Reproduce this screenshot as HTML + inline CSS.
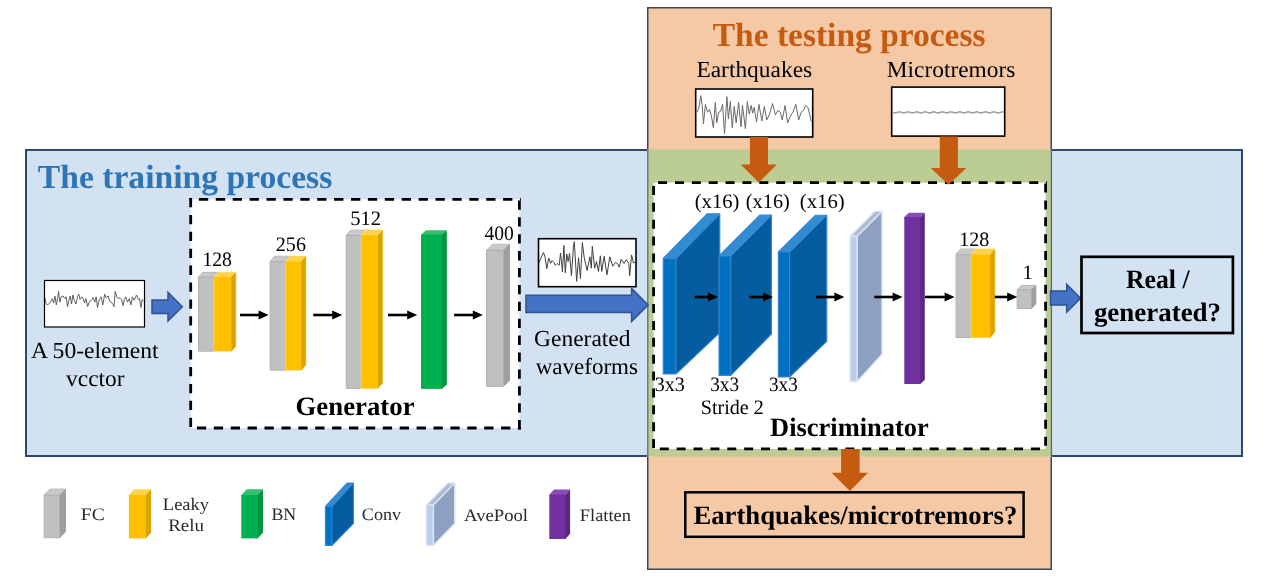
<!DOCTYPE html>
<html><head><meta charset="utf-8"><style>
html,body{margin:0;padding:0;background:#fff;}
svg{display:block;font-family:"Liberation Serif",serif;will-change:transform;text-rendering:geometricPrecision;}
</style></head><body>
<svg width="1268" height="581" viewBox="0 0 1268 581">
<rect x="26" y="150" width="1216" height="306" fill="#D2E2F2" stroke="#2E4670" stroke-width="2"/>
<rect x="647.75" y="7.75" width="403.5" height="561.5" fill="#F6C9A6" stroke="#3F4458" stroke-width="1.5"/>
<rect x="647" y="149.5" width="405" height="307" fill="#BCCD94"/>
<line x1="647.8" y1="150" x2="647.8" y2="456" stroke="#55737A" stroke-width="1.3"/>
<line x1="1051.4" y1="150" x2="1051.4" y2="456" stroke="#4F6A70" stroke-width="1.3"/>
<text transform="translate(37.80,188) scale(1.0010,1)" font-size="33.6" font-weight="700" fill="#2E75B6">The training process</text>
<text transform="translate(712.80,45.8) scale(0.9967,1)" font-size="33.6" font-weight="700" fill="#C55A11">The testing process</text>
<rect x="190.7" y="199.4" width="328.7" height="228.6" fill="#fff"/>
<line x1="189.29999999999998" y1="199.4" x2="520.8" y2="199.4" stroke="#000" stroke-width="2.8" stroke-dasharray="9.3 7.599999999999998" stroke-dashoffset="7.30"/>
<line x1="190.7" y1="198.0" x2="190.7" y2="429.4" stroke="#000" stroke-width="2.8" stroke-dasharray="9.3 7.599999999999998" stroke-dashoffset="0.00"/>
<line x1="519.4" y1="198.0" x2="519.4" y2="429.4" stroke="#000" stroke-width="2.8" stroke-dasharray="9.3 7.599999999999998" stroke-dashoffset="14.50"/>
<line x1="189.29999999999998" y1="428" x2="520.8" y2="428" stroke="#000" stroke-width="2.8" stroke-dasharray="9.3 7.599999999999998" stroke-dashoffset="9.30"/>
<rect x="653.6" y="182.6" width="391.9999999999999" height="266.29999999999995" fill="#fff"/>
<line x1="652.2" y1="182.6" x2="1047.0" y2="182.6" stroke="#000" stroke-width="2.8" stroke-dasharray="9.0 7.870000000000001" stroke-dashoffset="10.97"/>
<line x1="653.6" y1="181.2" x2="653.6" y2="450.29999999999995" stroke="#000" stroke-width="2.8" stroke-dasharray="9.0 7.870000000000001" stroke-dashoffset="12.07"/>
<line x1="1045.6" y1="181.2" x2="1045.6" y2="450.29999999999995" stroke="#000" stroke-width="2.8" stroke-dasharray="9.0 7.870000000000001" stroke-dashoffset="14.47"/>
<line x1="652.2" y1="448.9" x2="1047.0" y2="448.9" stroke="#000" stroke-width="2.8" stroke-dasharray="9.0 7.870000000000001" stroke-dashoffset="9.27"/>
<polygon points="198.6,277.1 202.89999999999998,272.4 218.6,272.4 218.6,346.4 214.3,351.1 198.6,351.1" fill="#C0C0C0" stroke="#A3A3A3" stroke-width="1" stroke-linejoin="round"/>
<polygon points="198.6,278.1 198.6,277.1 202.89999999999998,272.4 218.6,272.4 214.3,277.1 214.3,278.1" fill="#CACACA"/>
<polygon points="213.3,277.1 214.3,277.1 218.6,272.4 218.6,346.4 214.3,351.1 213.3,351.1" fill="#9E9E9E"/>
<rect x="198.6" y="277.1" width="15.700000000000017" height="74.0" fill="#C0C0C0"/>
<polyline points="198.6,277.1 214.3,277.1 218.6,272.4" fill="none" stroke="#ABABAB" stroke-width="0.9"/>
<line x1="214.3" y1="277.1" x2="214.3" y2="351.1" stroke="#B0B0B0" stroke-width="0.8"/>
<polygon points="214.3,277.1 218.6,272.4 235.7,272.4 235.7,346.4 231.4,351.1 214.3,351.1" fill="#FFC000" stroke="#FFE27A" stroke-width="1.2" stroke-linejoin="round"/>
<polygon points="214.3,278.1 214.3,277.1 218.6,272.4 235.7,272.4 231.4,277.1 231.4,278.1" fill="#FFD24D"/>
<polygon points="230.4,277.1 231.4,277.1 235.7,272.4 235.7,346.4 231.4,351.1 230.4,351.1" fill="#D9A300"/>
<rect x="214.3" y="277.1" width="17.099999999999994" height="74.0" fill="#FFC000"/>
<polygon points="270.2,261.6 274.6,256.3 290.3,256.3 290.3,364.8 285.9,370.1 270.2,370.1" fill="#C0C0C0" stroke="#A3A3A3" stroke-width="1" stroke-linejoin="round"/>
<polygon points="270.2,262.6 270.2,261.6 274.6,256.3 290.3,256.3 285.9,261.6 285.9,262.6" fill="#CACACA"/>
<polygon points="284.9,261.6 285.9,261.6 290.3,256.3 290.3,364.8 285.9,370.1 284.9,370.1" fill="#9E9E9E"/>
<rect x="270.2" y="261.6" width="15.699999999999989" height="108.5" fill="#C0C0C0"/>
<polyline points="270.2,261.6 285.9,261.6 290.3,256.3" fill="none" stroke="#ABABAB" stroke-width="0.9"/>
<line x1="285.9" y1="261.6" x2="285.9" y2="370.1" stroke="#B0B0B0" stroke-width="0.8"/>
<polygon points="285.9,261.6 290.3,256.3 305.8,256.3 305.8,364.8 301.4,370.1 285.9,370.1" fill="#FFC000" stroke="#FFE27A" stroke-width="1.2" stroke-linejoin="round"/>
<polygon points="285.9,262.6 285.9,261.6 290.3,256.3 305.8,256.3 301.4,261.6 301.4,262.6" fill="#FFD24D"/>
<polygon points="300.4,261.6 301.4,261.6 305.8,256.3 305.8,364.8 301.4,370.1 300.4,370.1" fill="#D9A300"/>
<rect x="285.9" y="261.6" width="15.5" height="108.5" fill="#FFC000"/>
<polygon points="346.3,235.4 350.8,230.2 365.8,230.2 365.8,383.1 361.3,388.3 346.3,388.3" fill="#C0C0C0" stroke="#A3A3A3" stroke-width="1" stroke-linejoin="round"/>
<polygon points="346.3,236.4 346.3,235.4 350.8,230.2 365.8,230.2 361.3,235.4 361.3,236.4" fill="#CACACA"/>
<polygon points="360.3,235.4 361.3,235.4 365.8,230.2 365.8,383.1 361.3,388.3 360.3,388.3" fill="#9E9E9E"/>
<rect x="346.3" y="235.4" width="15.0" height="152.9" fill="#C0C0C0"/>
<polyline points="346.3,235.4 361.3,235.4 365.8,230.2" fill="none" stroke="#ABABAB" stroke-width="0.9"/>
<line x1="361.3" y1="235.4" x2="361.3" y2="388.3" stroke="#B0B0B0" stroke-width="0.8"/>
<polygon points="361.3,235.4 365.8,230.2 382.5,230.2 382.5,383.1 378,388.3 361.3,388.3" fill="#FFC000" stroke="#FFE27A" stroke-width="1.2" stroke-linejoin="round"/>
<polygon points="361.3,236.4 361.3,235.4 365.8,230.2 382.5,230.2 378,235.4 378,236.4" fill="#FFD24D"/>
<polygon points="377,235.4 378,235.4 382.5,230.2 382.5,383.1 378,388.3 377,388.3" fill="#D9A300"/>
<rect x="361.3" y="235.4" width="16.69999999999999" height="152.9" fill="#FFC000"/>
<polygon points="421,235.7 421,234.7 426,230.2 446.8,230.2 441.8,234.7 441.8,235.7" fill="#33C070"/>
<polygon points="440.8,234.7 441.8,234.7 446.8,230.2 446.8,384.4 441.8,388.9 440.8,388.9" fill="#00953F"/>
<rect x="421" y="234.7" width="20.80000000000001" height="154.2" fill="#00B050"/>
<polygon points="486.6,250.3 492.6,244.3 509.6,244.3 509.6,380.3 503.6,386.3 486.6,386.3" fill="#C0C0C0" stroke="#A3A3A3" stroke-width="1" stroke-linejoin="round"/>
<polygon points="486.6,251.3 486.6,250.3 492.6,244.3 509.6,244.3 503.6,250.3 503.6,251.3" fill="#CACACA"/>
<polygon points="502.6,250.3 503.6,250.3 509.6,244.3 509.6,380.3 503.6,386.3 502.6,386.3" fill="#9E9E9E"/>
<rect x="486.6" y="250.3" width="17.0" height="136.0" fill="#C0C0C0"/>
<polyline points="486.6,250.3 503.6,250.3 509.6,244.3" fill="none" stroke="#ABABAB" stroke-width="0.9"/>
<line x1="503.6" y1="250.3" x2="503.6" y2="386.3" stroke="#B0B0B0" stroke-width="0.8"/>
<line x1="240" y1="315" x2="259.6" y2="315" stroke="#000" stroke-width="2.6"/>
<polygon points="258.6,310.4 268.6,315 258.6,319.6" fill="#000"/>
<line x1="313.2" y1="315" x2="333.2" y2="315" stroke="#000" stroke-width="2.6"/>
<polygon points="332.2,310.4 342.2,315 332.2,319.6" fill="#000"/>
<line x1="388" y1="315" x2="408.2" y2="315" stroke="#000" stroke-width="2.6"/>
<polygon points="407.2,310.4 417.2,315 407.2,319.6" fill="#000"/>
<line x1="454.1" y1="315" x2="473.8" y2="315" stroke="#000" stroke-width="2.6"/>
<polygon points="472.8,310.4 482.8,315 472.8,319.6" fill="#000"/>
<text transform="translate(202.39,265.9) scale(0.9571,1)" font-size="20.5" font-weight="400" fill="#000">128</text>
<text transform="translate(275.82,250.6) scale(0.9793,1)" font-size="20.5" font-weight="400" fill="#000">256</text>
<text transform="translate(350.20,224.6) scale(1.0034,1)" font-size="20.5" font-weight="400" fill="#000">512</text>
<text transform="translate(484.40,240.3) scale(0.9533,1)" font-size="20.5" font-weight="400" fill="#000">400</text>
<text transform="translate(295.49,415.2) scale(1.0112,1)" font-size="26.5" font-weight="700" fill="#000">Generator</text>
<rect x="44.5" y="280.5" width="100" height="46.5" fill="#fff" stroke="#000" stroke-width="1.2"/>
<polyline points="45.13,297.70 46.03,303.96 47.82,304.86 49.61,303.07 50.95,301.28 52.30,298.59 53.64,303.07 54.98,295.91 56.32,304.86 57.67,297.70 58.56,291.43 59.91,302.17 61.25,296.80 63.04,295.91 64.83,298.59 66.17,296.80 67.51,306.65 68.86,300.38 70.20,295.91 71.54,303.96 72.89,295.01 74.23,300.38 76.02,303.96 77.36,296.80 78.71,294.11 80.05,299.49 81.84,296.80 83.18,298.59 84.52,303.07 85.87,298.59 87.66,306.65 89.45,301.28 91.24,300.38 93.03,297.70 94.82,302.17 96.16,296.80 97.51,307.54 99.30,299.49 101.09,296.80 102.88,304.86 104.67,294.11 106.01,297.70 108.25,295.91 109.59,301.28 111.38,302.17 113.17,304.86 114.07,306.65 115.23,291.43 116.75,296.80 118.10,298.59 119.89,297.70 121.68,299.49 123.02,305.75 124.36,299.49 125.71,296.80 127.50,302.17 129.29,298.59 131.08,304.86 132.42,296.80 134.21,300.38 136.45,295.01 138.24,299.49 139.58,298.59 140.93,307.54 142.27,299.49 143.16,301.28" fill="none" stroke="#505050" stroke-width="0.9" stroke-linejoin="round"/>
<polygon points="152,300 168,300 168,292.4 182.3,306.7 168,321 168,313.6 152,313.6" fill="#4472C4" stroke="#2F5290" stroke-width="1.5" stroke-linejoin="miter"/>
<text transform="translate(30.97,358) scale(1.0252,1)" font-size="23" font-weight="400" fill="#000">A 50-element</text>
<text transform="translate(66.10,385.7) scale(1.0158,1)" font-size="23" font-weight="400" fill="#000">vcctor</text>
<rect x="538.5" y="238.7" width="97.5" height="48" fill="#fff" stroke="#000" stroke-width="1.6"/>
<polyline points="538.79,263.41 540.68,258.67 543.52,252.52 544.94,256.78 546.84,268.62 548.73,258.20 550.62,263.41 552.05,260.57 553.94,262.46 555.36,265.30 557.25,263.41 559.15,265.30 560.57,252.99 562.46,271.93 563.88,245.42 565.30,272.88 566.72,253.94 568.14,261.52 569.56,253.47 571.46,275.72 573.35,247.31 574.30,241.63 576.67,281.40 578.56,257.73 580.45,278.56 582.35,242.58 584.24,257.73 587.08,270.51 589.92,256.78 591.34,268.14 592.29,246.36 594.66,268.14 596.55,261.52 598.45,271.46 600.34,255.83 601.76,271.46 604.13,256.31 606.97,274.77 609.81,256.78 612.65,266.25 615.49,262.46 617.39,263.41 619.28,267.20 621.17,259.15 624.02,263.41 626.38,259.62 628.75,263.41 629.70,275.72 631.59,254.89 633.48,262.94 635.38,261.99" fill="none" stroke="#404040" stroke-width="1.0" stroke-linejoin="round"/>
<polygon points="526,295.3 631.6,295.3 631.6,288.4 648.1,304.9 631.6,321.4 631.6,312.6 526,312.6" fill="#4472C4" stroke="#2F5290" stroke-width="1.5" stroke-linejoin="miter"/>
<text transform="translate(534.08,346) scale(1.0204,1)" font-size="23" font-weight="400" fill="#000">Generated</text>
<text transform="translate(535.70,374) scale(1.0010,1)" font-size="23" font-weight="400" fill="#000">waveforms</text>
<text transform="translate(696.38,76.5) scale(1.0188,1)" font-size="23" font-weight="400" fill="#000">Earthquakes</text>
<text transform="translate(886.78,76.5) scale(1.0168,1)" font-size="23" font-weight="400" fill="#000">Microtremors</text>
<rect x="695.7" y="89" width="117" height="48" fill="#fff" stroke="#000" stroke-width="1.6"/>
<polyline points="696.88,112.19 698.82,108.31 700.76,95.70 702.21,105.40 703.48,123.83 705.42,104.43 707.55,112.19 709.49,109.28 711.43,116.07 713.37,127.71 715.31,102.49 716.76,122.86 718.70,112.19 720.64,111.22 722.58,104.43 724.52,133.53 726.95,96.67 728.40,118.98 730.34,101.52 732.28,127.71 734.22,106.37 736.16,122.86 738.59,102.49 741.01,126.74 742.47,105.40 745.38,128.68 747.32,101.52 749.26,114.13 751.20,105.40 752.65,113.16 754.11,107.34 756.53,121.89 758.96,104.43 761.87,120.92 764.29,106.37 766.71,119.95 769.62,114.13 772.53,103.46 775.44,115.10 777.87,110.25 780.29,112.19 782.23,119.95 785.14,105.40 787.57,122.86 789.99,117.04 792.90,112.19 795.81,104.43 798.72,119.95 801.15,112.19 803.57,110.25 805.51,105.40 807.94,107.34 811.33,121.89" fill="none" stroke="#6a6a6a" stroke-width="1.0" stroke-linejoin="round"/>
<rect x="891.7" y="87.1" width="113" height="49" fill="#fff" stroke="#000" stroke-width="1.6"/>
<polyline points="893.0,112.40 893.5,112.58 894.0,112.73 894.5,112.84 895.0,112.90 895.5,112.88 896.0,112.81 896.5,112.68 897.0,112.51 897.5,112.33 898.0,112.16 898.5,112.02 899.0,111.93 899.5,111.90 900.0,111.94 900.5,112.04 901.0,112.19 901.5,112.36 902.0,112.54 902.5,112.71 903.0,112.83 903.5,112.89 904.0,112.89 904.5,112.83 905.0,112.71 905.5,112.54 906.0,112.36 906.5,112.19 907.0,112.04 907.5,111.94 908.0,111.90 908.5,111.93 909.0,112.02 909.5,112.16 910.0,112.33 910.5,112.51 911.0,112.68 911.5,112.81 912.0,112.88 912.5,112.90 913.0,112.84 913.5,112.73 914.0,112.58 914.5,112.40 915.0,112.22 915.5,112.07 916.0,111.96 916.5,111.90 917.0,111.92 917.5,111.99 918.0,112.12 918.5,112.29 919.0,112.47 919.5,112.64 920.0,112.78 920.5,112.87 921.0,112.90 921.5,112.86 922.0,112.76 922.5,112.61 923.0,112.44 923.5,112.26 924.0,112.09 924.5,111.97 925.0,111.91 925.5,111.91 926.0,111.97 926.5,112.09 927.0,112.26 927.5,112.44 928.0,112.61 928.5,112.76 929.0,112.86 929.5,112.90 930.0,112.87 930.5,112.78 931.0,112.64 931.5,112.47 932.0,112.29 932.5,112.12 933.0,111.99 933.5,111.92 934.0,111.90 934.5,111.96 935.0,112.07 935.5,112.22 936.0,112.40 936.5,112.58 937.0,112.73 937.5,112.84 938.0,112.90 938.5,112.88 939.0,112.81 939.5,112.68 940.0,112.51 940.5,112.33 941.0,112.16 941.5,112.02 942.0,111.93 942.5,111.90 943.0,111.94 943.5,112.04 944.0,112.19 944.5,112.36 945.0,112.54 945.5,112.71 946.0,112.83 946.5,112.89 947.0,112.89 947.5,112.83 948.0,112.71 948.5,112.54 949.0,112.36 949.5,112.19 950.0,112.04 950.5,111.94 951.0,111.90 951.5,111.93 952.0,112.02 952.5,112.16 953.0,112.33 953.5,112.51 954.0,112.68 954.5,112.81 955.0,112.88 955.5,112.90 956.0,112.84 956.5,112.73 957.0,112.58 957.5,112.40 958.0,112.22 958.5,112.07 959.0,111.96 959.5,111.90 960.0,111.92 960.5,111.99 961.0,112.12 961.5,112.29 962.0,112.47 962.5,112.64 963.0,112.78 963.5,112.87 964.0,112.90 964.5,112.86 965.0,112.76 965.5,112.61 966.0,112.44 966.5,112.26 967.0,112.09 967.5,111.97 968.0,111.91 968.5,111.91 969.0,111.97 969.5,112.09 970.0,112.26 970.5,112.44 971.0,112.61 971.5,112.76 972.0,112.86 972.5,112.90 973.0,112.87 973.5,112.78 974.0,112.64 974.5,112.47 975.0,112.29 975.5,112.12 976.0,111.99 976.5,111.92 977.0,111.90 977.5,111.96 978.0,112.07 978.5,112.22 979.0,112.40 979.5,112.58 980.0,112.73 980.5,112.84 981.0,112.90 981.5,112.88 982.0,112.81 982.5,112.68 983.0,112.51 983.5,112.33 984.0,112.16 984.5,112.02 985.0,111.93 985.5,111.90 986.0,111.94 986.5,112.04 987.0,112.19 987.5,112.36 988.0,112.54 988.5,112.71 989.0,112.83 989.5,112.89 990.0,112.89 990.5,112.83 991.0,112.71 991.5,112.54 992.0,112.36 992.5,112.19 993.0,112.04 993.5,111.94 994.0,111.90 994.5,111.93 995.0,112.02 995.5,112.16 996.0,112.33 996.5,112.51 997.0,112.68 997.5,112.81 998.0,112.88 998.5,112.90 999.0,112.84 999.5,112.73 1000.0,112.58 1000.5,112.40 1001.0,112.22 1001.5,112.07 1002.0,111.96 1002.5,111.90 1003.0,111.92 1003.5,111.99 1004.0,112.12" fill="none" stroke="#A2A2A2" stroke-width="1.6"/>
<polygon points="749.9,137 768,137 768,164.5 776.9,164.5 758.8,182.5 740.7,164.5 749.9,164.5" fill="#C55A11"/>
<polygon points="939.8,136.5 957.9,136.5 957.9,168 966.3,168 948.5,184.8 930.7,168 939.8,168" fill="#C55A11"/>
<polygon points="663.2,259.5 663.2,258.5 707.0,213.8 719.8,213.8 676,258.5 676,259.5" fill="#328CD2"/>
<polygon points="675,258.5 676,258.5 719.8,213.8 719.8,332.7 676,374 675,374" fill="#055C9E"/>
<rect x="663.2" y="258.5" width="12.799999999999955" height="115.5" fill="#0070C0"/>
<polygon points="663.2,258.5 707.0,213.8 719.8,213.8 719.8,332.7 676,374 663.2,374" fill="none" stroke="#3A86D6" stroke-width="1.1" stroke-linejoin="round"/>
<polyline points="663.2,258.5 676,258.5 719.8,213.8" fill="none" stroke="#3A86D6" stroke-width="1.1"/>
<line x1="676" y1="258.5" x2="676" y2="374" stroke="#3A86D6" stroke-width="1.1"/>
<polygon points="719,257 719,256 759.7,215.1 771.5,215.1 730.8,256 730.8,257" fill="#328CD2"/>
<polygon points="729.8,256 730.8,256 771.5,215.1 771.5,334 730.8,375.4 729.8,375.4" fill="#055C9E"/>
<rect x="719" y="256" width="11.799999999999955" height="119.39999999999998" fill="#0070C0"/>
<polygon points="719,256 759.7,215.1 771.5,215.1 771.5,334 730.8,375.4 719,375.4" fill="none" stroke="#3A86D6" stroke-width="1.1" stroke-linejoin="round"/>
<polyline points="719,256 730.8,256 771.5,215.1" fill="none" stroke="#3A86D6" stroke-width="1.1"/>
<line x1="730.8" y1="256" x2="730.8" y2="375.4" stroke="#3A86D6" stroke-width="1.1"/>
<polygon points="778.3,253 778.3,252 815.4999999999999,215.2 826.8,215.2 789.6,252 789.6,253" fill="#328CD2"/>
<polygon points="788.6,252 789.6,252 826.8,215.2 826.8,341.3 789.6,377 788.6,377" fill="#055C9E"/>
<rect x="778.3" y="252" width="11.300000000000068" height="125" fill="#0070C0"/>
<polygon points="778.3,252 815.4999999999999,215.2 826.8,215.2 826.8,341.3 789.6,377 778.3,377" fill="none" stroke="#3A86D6" stroke-width="1.1" stroke-linejoin="round"/>
<polyline points="778.3,252 789.6,252 826.8,215.2" fill="none" stroke="#3A86D6" stroke-width="1.1"/>
<line x1="789.6" y1="252" x2="789.6" y2="377" stroke="#3A86D6" stroke-width="1.1"/>
<polygon points="850.1,237.3 850.1,236.3 874.9,211.3 882,211.3 857.2,236.3 857.2,237.3" fill="#AEBBD3"/>
<polygon points="856.2,236.3 857.2,236.3 882,211.3 882,354.2 857.2,381.4 856.2,381.4" fill="#8DA0C2"/>
<rect x="850.1" y="236.3" width="7.100000000000023" height="145.09999999999997" fill="#BCCDEB"/>
<polygon points="850.1,236.3 874.9,211.3 882,211.3 882,354.2 857.2,381.4 850.1,381.4" fill="none" stroke="#DDE6F5" stroke-width="1.5" stroke-linejoin="round"/>
<polyline points="850.1,236.3 857.2,236.3 882,211.3" fill="none" stroke="#DDE6F5" stroke-width="1.5"/>
<line x1="857.2" y1="236.3" x2="857.2" y2="381.4" stroke="#DDE6F5" stroke-width="1.5"/>
<polygon points="904.3,218 904.3,217 908.8,212.7 924.8,212.7 920.3,217 920.3,218" fill="#8A4DB8"/>
<polygon points="919.3,217 920.3,217 924.8,212.7 924.8,379.7 920.3,384 919.3,384" fill="#5B2784"/>
<rect x="904.3" y="217" width="16.0" height="167" fill="#7030A0"/>
<polygon points="956.1,254.7 960.5,249.1 975.6999999999999,249.1 975.6999999999999,331.9 971.3,337.5 956.1,337.5" fill="#C0C0C0" stroke="#A3A3A3" stroke-width="1" stroke-linejoin="round"/>
<polygon points="956.1,255.7 956.1,254.7 960.5,249.1 975.6999999999999,249.1 971.3,254.7 971.3,255.7" fill="#CACACA"/>
<polygon points="970.3,254.7 971.3,254.7 975.6999999999999,249.1 975.6999999999999,331.9 971.3,337.5 970.3,337.5" fill="#9E9E9E"/>
<rect x="956.1" y="254.7" width="15.199999999999932" height="82.80000000000001" fill="#C0C0C0"/>
<polyline points="956.1,254.7 971.3,254.7 975.6999999999999,249.1" fill="none" stroke="#ABABAB" stroke-width="0.9"/>
<line x1="971.3" y1="254.7" x2="971.3" y2="337.5" stroke="#B0B0B0" stroke-width="0.8"/>
<polygon points="971.3,254.7 975.6999999999999,249.1 994.8,249.1 994.8,331.9 990.4,337.5 971.3,337.5" fill="#FFC000" stroke="#FFE27A" stroke-width="1.2" stroke-linejoin="round"/>
<polygon points="971.3,255.7 971.3,254.7 975.6999999999999,249.1 994.8,249.1 990.4,254.7 990.4,255.7" fill="#FFD24D"/>
<polygon points="989.4,254.7 990.4,254.7 994.8,249.1 994.8,331.9 990.4,337.5 989.4,337.5" fill="#D9A300"/>
<rect x="971.3" y="254.7" width="19.100000000000023" height="82.80000000000001" fill="#FFC000"/>
<polygon points="1017.2,289.8 1021.7,285.40000000000003 1035.8,285.40000000000003 1035.8,304.0 1031.3,308.4 1017.2,308.4" fill="#C0C0C0" stroke="#A3A3A3" stroke-width="1" stroke-linejoin="round"/>
<polygon points="1017.2,290.8 1017.2,289.8 1021.7,285.40000000000003 1035.8,285.40000000000003 1031.3,289.8 1031.3,290.8" fill="#CACACA"/>
<polygon points="1030.3,289.8 1031.3,289.8 1035.8,285.40000000000003 1035.8,304.0 1031.3,308.4 1030.3,308.4" fill="#9E9E9E"/>
<rect x="1017.2" y="289.8" width="14.099999999999909" height="18.599999999999966" fill="#C0C0C0"/>
<polyline points="1017.2,289.8 1031.3,289.8 1035.8,285.40000000000003" fill="none" stroke="#ABABAB" stroke-width="0.9"/>
<line x1="1031.3" y1="289.8" x2="1031.3" y2="308.4" stroke="#B0B0B0" stroke-width="0.8"/>
<line x1="694.6" y1="297" x2="709" y2="297" stroke="#000" stroke-width="2.6"/>
<polygon points="708,292.4 718,297 708,301.6" fill="#000"/>
<line x1="749.6" y1="297" x2="764" y2="297" stroke="#000" stroke-width="2.6"/>
<polygon points="763,292.4 773,297 763,301.6" fill="#000"/>
<line x1="815.9" y1="297" x2="835.4" y2="297" stroke="#000" stroke-width="2.6"/>
<polygon points="834.4,292.4 844.4,297 834.4,301.6" fill="#000"/>
<line x1="874.3" y1="297" x2="893.6" y2="297" stroke="#000" stroke-width="2.6"/>
<polygon points="892.6,292.4 902.6,297 892.6,301.6" fill="#000"/>
<line x1="925" y1="297" x2="945.6" y2="297" stroke="#000" stroke-width="2.6"/>
<polygon points="944.6,292.4 954.6,297 944.6,301.6" fill="#000"/>
<line x1="994.8" y1="297" x2="1008.2" y2="297" stroke="#000" stroke-width="2.6"/>
<polygon points="1007.2,292.4 1017.2,297 1007.2,301.6" fill="#000"/>
<text transform="translate(694.69,208.2) scale(1.0071,1)" font-size="20.5" font-weight="400" fill="#000">(x16)</text>
<text transform="translate(745.81,208.2) scale(0.9905,1)" font-size="20.5" font-weight="400" fill="#000">(x16)</text>
<text transform="translate(799.79,208.2) scale(1.0119,1)" font-size="20.5" font-weight="400" fill="#000">(x16)</text>
<text transform="translate(654.72,391.2) scale(0.9793,1)" font-size="20.5" font-weight="400" fill="#000">3x3</text>
<text transform="translate(710.27,391.2) scale(0.9345,1)" font-size="20.5" font-weight="400" fill="#000">3x3</text>
<text transform="translate(768.97,391.2) scale(0.9345,1)" font-size="20.5" font-weight="400" fill="#000">3x3</text>
<text transform="translate(700.82,413.8) scale(0.9790,1)" font-size="20.5" font-weight="400" fill="#000">Stride 2</text>
<text transform="translate(959.14,246.3) scale(0.9786,1)" font-size="20.5" font-weight="400" fill="#000">128</text>
<text transform="translate(1022.50,278.6) scale(1.0000,1)" font-size="20.5" font-weight="400" fill="#000">1</text>
<text transform="translate(770.10,436.1) scale(0.9981,1)" font-size="26.5" font-weight="700" fill="#000">Discriminator</text>
<polygon points="1050.5,291.1 1066.7,291.1 1066.7,284.3 1080.6,298.3 1066.7,312.3 1066.7,305 1050.5,305" fill="#4472C4" stroke="#2F5290" stroke-width="1.5" stroke-linejoin="miter"/>
<rect x="1081.5" y="256.8" width="151.4" height="76.2" fill="none" stroke="#000" stroke-width="2.7"/>
<text transform="translate(1126.00,287.9) scale(0.9697,1)" font-size="26.5" font-weight="700" fill="#000">Real /</text>
<text transform="translate(1093.88,320.7) scale(1.0164,1)" font-size="26.5" font-weight="700" fill="#000">generated?</text>
<polygon points="841.1,449 859.6,449 859.6,472.7 868,472.7 849.85,491.1 831.7,472.7 841.1,472.7" fill="#C55A11"/>
<rect x="685.3" y="492.3" width="338.3" height="44.5" fill="none" stroke="#000" stroke-width="2.5"/>
<text transform="translate(693.40,524) scale(1.0078,1)" font-size="26.5" font-weight="700" fill="#000">Earthquakes/microtremors?</text>
<polygon points="44.2,495.1 50.1,489.20000000000005 65.5,489.20000000000005 65.5,531.8000000000001 59.6,537.7 44.2,537.7" fill="#C0C0C0" stroke="#A3A3A3" stroke-width="1" stroke-linejoin="round"/>
<polygon points="44.2,496.1 44.2,495.1 50.1,489.20000000000005 65.5,489.20000000000005 59.6,495.1 59.6,496.1" fill="#CACACA"/>
<polygon points="58.6,495.1 59.6,495.1 65.5,489.20000000000005 65.5,531.8000000000001 59.6,537.7 58.6,537.7" fill="#9E9E9E"/>
<rect x="44.2" y="495.1" width="15.399999999999999" height="42.60000000000002" fill="#C0C0C0"/>
<polyline points="44.2,495.1 59.6,495.1 65.5,489.20000000000005" fill="none" stroke="#ABABAB" stroke-width="0.9"/>
<line x1="59.6" y1="495.1" x2="59.6" y2="537.7" stroke="#B0B0B0" stroke-width="0.8"/>
<text transform="translate(80.78,519.6) scale(1.1158,1)" font-size="17.5" font-weight="400" fill="#2a2a2a">FC</text>
<polygon points="128.9,496 128.9,495 134.1,489.2 151.1,489.2 145.9,495 145.9,496" fill="#FFD24D"/>
<polygon points="144.9,495 145.9,495 151.1,489.2 151.1,532.6 145.9,538.4 144.9,538.4" fill="#D9A300"/>
<rect x="128.9" y="495" width="17.0" height="43.39999999999998" fill="#FFC000"/>
<text transform="translate(162.84,509.8) scale(1.0571,1)" font-size="17.5" font-weight="400" fill="#2a2a2a">Leaky</text>
<text transform="translate(168.22,531) scale(1.0839,1)" font-size="17.5" font-weight="400" fill="#2a2a2a">Relu</text>
<polygon points="241.3,496 241.3,495 246.70000000000002,489.2 263.0,489.2 257.6,495 257.6,496" fill="#33C070"/>
<polygon points="256.6,495 257.6,495 263.0,489.2 263.0,532.6 257.6,538.4 256.6,538.4" fill="#00953F"/>
<rect x="241.3" y="495" width="16.30000000000001" height="43.39999999999998" fill="#00B050"/>
<text transform="translate(271.38,519.6) scale(1.0217,1)" font-size="17.5" font-weight="400" fill="#2a2a2a">BN</text>
<polygon points="325.4,507.4 325.4,506.4 347.0,483 353.5,483 331.9,506.4 331.9,507.4" fill="#328CD2"/>
<polygon points="330.9,506.4 331.9,506.4 353.5,483 353.5,523.4 331.9,545.5 330.9,545.5" fill="#055C9E"/>
<rect x="325.4" y="506.4" width="6.5" height="39.10000000000002" fill="#0070C0"/>
<polygon points="325.4,506.4 347.0,483 353.5,483 353.5,523.4 331.9,545.5 325.4,545.5" fill="none" stroke="#3A86D6" stroke-width="1.1" stroke-linejoin="round"/>
<polyline points="325.4,506.4 331.9,506.4 353.5,483" fill="none" stroke="#3A86D6" stroke-width="1.1"/>
<line x1="331.9" y1="506.4" x2="331.9" y2="545.5" stroke="#3A86D6" stroke-width="1.1"/>
<text transform="translate(361.87,519.8) scale(1.0324,1)" font-size="17.5" font-weight="400" fill="#2a2a2a">Conv</text>
<polygon points="426.4,506.1 426.4,505.1 447.8,483 454.8,483 433.4,505.1 433.4,506.1" fill="#AEBBD3"/>
<polygon points="432.4,505.1 433.4,505.1 454.8,483 454.8,523.4 433.4,545.5 432.4,545.5" fill="#8DA0C2"/>
<rect x="426.4" y="505.1" width="7.0" height="40.39999999999998" fill="#BCCDEB"/>
<polygon points="426.4,505.1 447.8,483 454.8,483 454.8,523.4 433.4,545.5 426.4,545.5" fill="none" stroke="#DDE6F5" stroke-width="1.5" stroke-linejoin="round"/>
<polyline points="426.4,505.1 433.4,505.1 454.8,483" fill="none" stroke="#DDE6F5" stroke-width="1.5"/>
<line x1="433.4" y1="505.1" x2="433.4" y2="545.5" stroke="#DDE6F5" stroke-width="1.5"/>
<text transform="translate(464.03,521.4) scale(1.0672,1)" font-size="17.5" font-weight="400" fill="#2a2a2a">AvePool</text>
<polygon points="549.3,495.7 549.3,494.7 554.0,489.5 570.1,489.5 565.4,494.7 565.4,495.7" fill="#8A4DB8"/>
<polygon points="564.4,494.7 565.4,494.7 570.1,489.5 570.1,533.8 565.4,539 564.4,539" fill="#5B2784"/>
<rect x="549.3" y="494.7" width="16.100000000000023" height="44.30000000000001" fill="#7030A0"/>
<text transform="translate(579.85,521.4) scale(1.0511,1)" font-size="17.5" font-weight="400" fill="#2a2a2a">Flatten</text>
</svg>
</body></html>
